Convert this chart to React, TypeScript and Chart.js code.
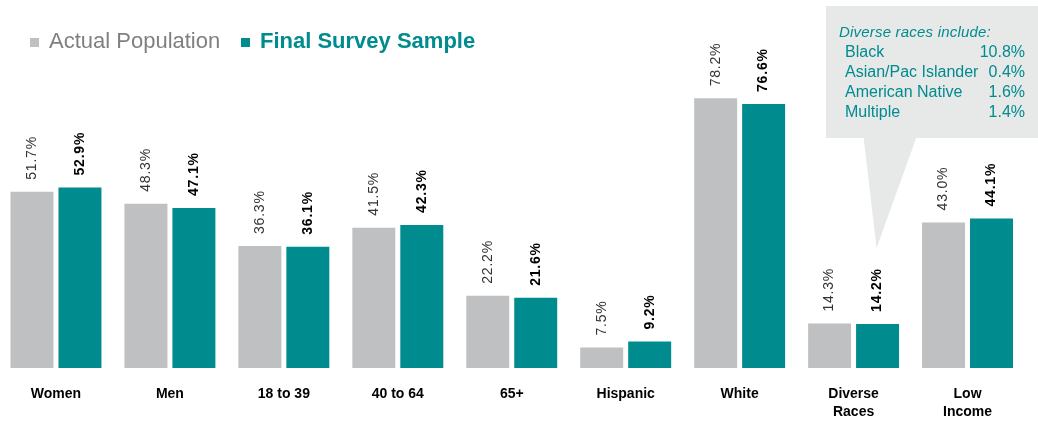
import React, { useEffect, useRef } from "react";
import { Chart, registerables } from "chart.js";

Chart.register(...registerables);

const categories: string[][] = [
  ["Women"],
  ["Men"],
  ["18 to 39"],
  ["40 to 64"],
  ["65+"],
  ["Hispanic"],
  ["White"],
  ["Diverse", "Races"],
  ["Low", "Income"],
];
const actualPopulation = [51.7, 48.3, 36.3, 41.5, 22.2, 7.5, 78.2, 14.3, 43.0];
const finalSample = [52.9, 47.1, 36.1, 42.3, 21.6, 9.2, 76.6, 14.2, 44.1];
const seriesNames = ["Actual Population", "Final Survey Sample"];

const calloutTitle = "Diverse races include:";
const diverseNames = ["Black", "Asian/Pac Islander", "American Native", "Multiple"];
const diverseValues = [10.8, 0.4, 1.6, 1.4];
const calloutCategoryIndex = 7;

const GRAY = "#BFC0C2";
const TEAL = "#008B8F";
const FONT = '"Liberation Sans", Arial, sans-serif';
const OFF = 1; // canvas shifted left by 1px

const overlayPlugin = {
  id: "overlay",
  afterDatasetsDraw(chart: any) {
    const ctx = chart.ctx as CanvasRenderingContext2D;

    // Callout box with pointer anchored to the Diverse Races sample bar
    const metaS = chart.getDatasetMeta(1);
    const anchor = metaS.data[calloutCategoryIndex];
    const ax = anchor.x - 1;
    const ay = 248;
    ctx.save();
    ctx.fillStyle = "#E7E8E8";
    ctx.fillRect(826 + OFF, 6, 300, 132);
    ctx.beginPath();
    ctx.moveTo(ax - 13, 137);
    ctx.lineTo(ax + 40, 137);
    ctx.lineTo(ax, ay);
    ctx.closePath();
    ctx.fill();

    ctx.fillStyle = TEAL;
    ctx.textBaseline = "middle";
    ctx.textAlign = "left";
    ctx.font = "italic 15px " + FONT;
    (ctx as any).letterSpacing = "0.2px";
    ctx.fillText(calloutTitle, 839 + OFF, 33);
    ctx.font = "16px " + FONT;
    (ctx as any).letterSpacing = "0px";
    diverseNames.forEach((n, i) => {
      const y = 53 + i * 20;
      ctx.textAlign = "left";
      ctx.fillText(n, 845 + OFF, y);
      ctx.textAlign = "right";
      ctx.fillText(diverseValues[i].toFixed(1) + "%", 1025 + OFF, y);
    });
    ctx.restore();

    // Value labels, rotated
    chart.data.datasets.forEach((ds: any, di: number) => {
      const meta = chart.getDatasetMeta(di);
      meta.data.forEach((bar: any, i: number) => {
        const v = ds.data[i] as number;
        ctx.save();
        ctx.translate(bar.x, bar.y - 12);
        ctx.rotate(-Math.PI / 2);
        ctx.font = (di === 0 ? "" : "bold ") + "14px " + FONT;
        (ctx as any).letterSpacing = "0.8px";
        ctx.fillStyle = di === 0 ? "#333333" : "#000000";
        ctx.textAlign = "left";
        ctx.textBaseline = "middle";
        ctx.fillText(v.toFixed(1) + "%", 0, 0);
        ctx.restore();
      });
    });

    // Legend
    ctx.save();
    ctx.textBaseline = "middle";
    ctx.textAlign = "left";
    const items = [
      { sq: 30, tx: 49, textColor: "#808080", weight: "" },
      { sq: 241, tx: 260, textColor: TEAL, weight: "bold " },
    ];
    chart.data.datasets.forEach((ds: any, di: number) => {
      const it = items[di];
      ctx.fillStyle = ds.backgroundColor;
      ctx.fillRect(it.sq + OFF, 38, 9, 9);
      ctx.fillStyle = it.textColor;
      ctx.font = it.weight + "22px " + FONT;
      ctx.fillText(ds.label, it.tx + OFF, 42);
    });
    ctx.restore();
  },
};

export default function App() {
  const ref = useRef<HTMLCanvasElement>(null);
  useEffect(() => {
    const chart = new Chart(ref.current!, {
      type: "bar",
      data: {
        labels: categories,
        datasets: [
          {
            label: seriesNames[0],
            data: actualPopulation,
            backgroundColor: GRAY,
            categoryPercentage: 0.842,
            barPercentage: 0.896,
          },
          {
            label: seriesNames[1],
            data: finalSample,
            backgroundColor: TEAL,
            categoryPercentage: 0.842,
            barPercentage: 0.896,
          },
        ],
      },
      options: {
        responsive: false,
        animation: false,
        layout: { padding: { top: 21.5, right: 13.5, left: 0, bottom: 0 } },
        plugins: { legend: { display: false }, tooltip: { enabled: false } },
        scales: {
          x: {
            grid: { display: false, drawTicks: false },
            border: { display: false },
            ticks: {
              color: "#000000",
              padding: 17,
              maxRotation: 0,
              autoSkip: false,
              font: { family: FONT, size: 14, weight: "bold", lineHeight: 1.3 },
            },
            afterFit: (s: any) => {
              s.height = 58;
            },
          },
          y: { display: false, min: 1.7, max: 100 },
        },
      },
      plugins: [overlayPlugin],
    } as any);
    return () => chart.destroy();
  }, []);
  return (
    <canvas
      ref={ref}
      width={1039}
      height={426}
      style={{ position: "absolute", left: -OFF, top: 0, width: 1039, height: 426 }}
    />
  );
}
